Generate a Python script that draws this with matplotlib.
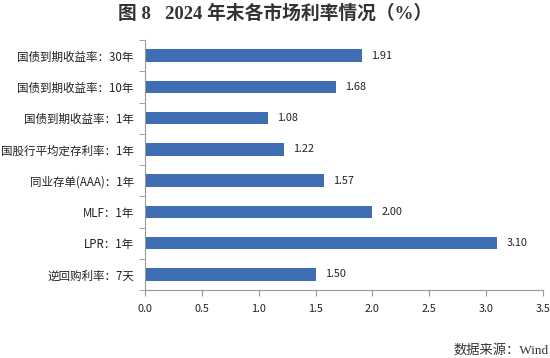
import matplotlib
matplotlib.use('Agg')
import matplotlib.pyplot as plt
import numpy as np

# 数据
categories = ['国债到期收益率：30年', '国债到期收益率：10年', '国债到期收益率：1年',
              '国股行平均定存利率：1年', '同业存单(AAA)：1年', 'MLF：1年',
              'LPR：1年', '逆回购利率：7天']
values = [1.91, 1.68, 1.08, 1.22, 1.57, 2.00, 3.10, 1.50]
xticks = [0.0, 0.5, 1.0, 1.5, 2.0, 2.5, 3.0, 3.5]

plt.rcParams['font.family'] = ['Noto Sans CJK SC', 'DejaVu Sans']

fig = plt.figure(figsize=(5.5, 3.58), dpi=100)
ax = fig.add_axes([0.2636, 0.19, 0.7236, 0.698])

y = np.arange(len(categories))[::-1]
ax.barh(y, values, height=0.4, color='#3F6EB5')
for yi, v in zip(y, values):
    ax.text(v + 0.08, yi, '%.2f' % v, va='center', ha='left', fontsize=7.8, color='#222222')

ax.set_xlim(0, 3.5)
ax.set_ylim(-0.5, len(categories) - 0.5)
ax.set_xticks(xticks)
ax.set_xticklabels(['%.1f' % t for t in xticks], fontsize=7.8, color='#222222')
ax.set_yticks(y)
ax.set_yticklabels(categories, fontsize=8.3, color='#222222')
ax.tick_params(axis='y', length=0, pad=8)
ax.set_yticks(np.arange(-0.5, len(categories), 1), minor=True)
ax.tick_params(axis='y', which='minor', length=4, color='#999999', direction='out')
ax.tick_params(axis='x', length=4, color='#999999', direction='out', pad=6)

for s in ['top', 'right']:
    ax.spines[s].set_visible(False)
for s in ['left', 'bottom']:
    ax.spines[s].set_color('#999999')
    ax.spines[s].set_linewidth(0.8)

fig.text(0.5, 0.962, '图 8   2024 年末各市场利率情况（%）', ha='center', va='center',
         fontsize=13.5, fontweight='semibold', color='#333333',
         family=['Liberation Serif', 'Noto Sans CJK SC'])
fig.text(0.997, 0.022, '数据来源：Wind', ha='right', va='center', fontsize=9.5,
         color='#333333', family=['Liberation Serif', 'Noto Sans CJK SC'])

fig.savefig('out.png', dpi=100)
